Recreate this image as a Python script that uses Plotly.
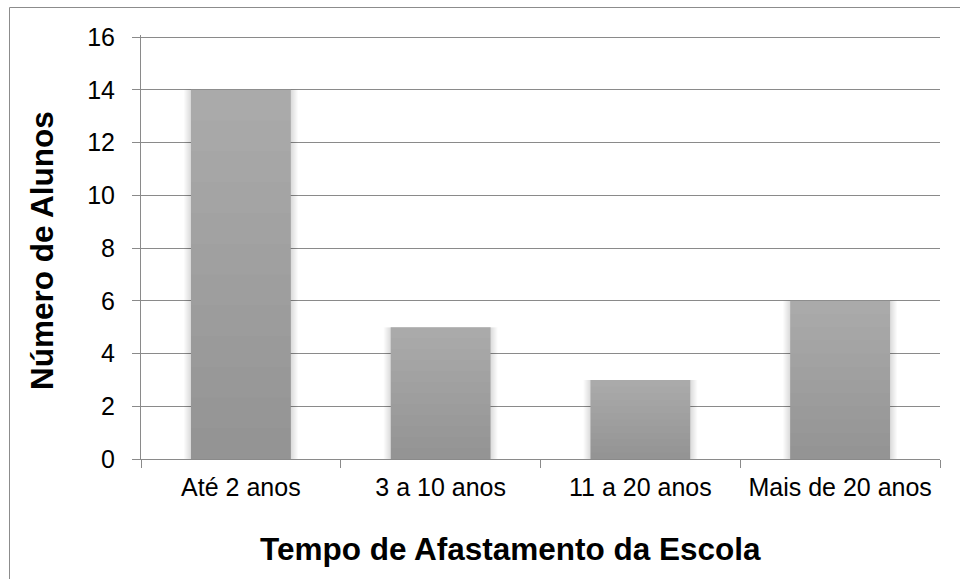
import plotly.graph_objects as go

# Students by time away from school
categorias = ["Até 2 anos", "3 a 10 anos", "11 a 20 anos", "Mais de 20 anos"]
alunos = [14, 5, 3, 6]
y_ticks = [0, 2, 4, 6, 8, 10, 12, 14, 16]
y_max = 16.08  # a little headroom so the top gridline is drawn

W, H = 960, 579
L, R, T, B = 141, 20, 35, 120
plot_w = W - L - R
plot_h = H - T - B
px = 1.0 / plot_w * len(categorias)  # one pixel in category units

bar_width = 0.5
fig = go.Figure()

# soft drop shadow around each bar
for k in range(7, 0, -1):
    fig.add_trace(go.Bar(
        x=categorias, y=alunos, width=bar_width + 2 * k * px,
        marker=dict(color="rgba(0,0,0,0.02)", line=dict(width=0)),
        hoverinfo="skip", showlegend=False,
    ))

# main bars, light grey at the top
fig.add_trace(go.Bar(
    x=categorias, y=alunos, width=bar_width,
    marker=dict(color="#adadad", line=dict(width=0)),
    showlegend=False,
))

# vertical shading: overlapping translucent bars darken toward the base
n_shade = 12
for k in range(1, n_shade + 1):
    fig.add_trace(go.Bar(
        x=categorias, y=[v * k / n_shade for v in alunos], width=bar_width,
        marker=dict(color="rgba(0,0,0,0.0125)", line=dict(width=0)),
        hoverinfo="skip", showlegend=False,
    ))

font = "Liberation Sans, Arial, sans-serif"
axis_color = "#8a8a8a"

fig.update_layout(
    width=W, height=H,
    margin=dict(l=L, r=R, t=T, b=B, pad=0),
    paper_bgcolor="white", plot_bgcolor="white",
    barmode="overlay",
    font=dict(family=font, color="black"),
    xaxis=dict(
        showline=True, linecolor=axis_color, linewidth=1,
        ticks="outside", tickson="boundaries", ticklen=8, tickcolor=axis_color,
        tickfont=dict(size=25, family=font, color="black"),
        ticklabelstandoff=6,
        showgrid=False,
    ),
    yaxis=dict(
        range=[0, y_max], tickvals=y_ticks,
        showline=True, linecolor=axis_color, linewidth=1,
        ticks="outside", ticklen=8, tickcolor=axis_color,
        tickfont=dict(size=25, family=font, color="black"),
        ticklabelstandoff=12,
        showgrid=True, gridcolor=axis_color, gridwidth=1,
        zeroline=False,
    ),
    annotations=[
        dict(text="<b>Tempo de Afastamento da Escola</b>",
             xref="paper", yref="paper",
             x=(510 - L) / plot_w, y=(T + plot_h - 549) / plot_h,
             xanchor="center", yanchor="middle", showarrow=False,
             font=dict(size=31.5, family=font, color="black")),
        dict(text="<b>Número de Alunos</b>",
             xref="paper", yref="paper", textangle=-90,
             x=(42 - L) / plot_w, y=(T + plot_h - 251) / plot_h,
             xanchor="center", yanchor="middle", showarrow=False,
             font=dict(size=31.5, family=font, color="black")),
    ],
    shapes=[
        dict(type="rect", xref="paper", yref="paper",
             x0=(9.5 - L) / plot_w, x1=(W + 40 - L) / plot_w,
             y0=(T + plot_h - (H + 40)) / plot_h, y1=(T + plot_h - 7.5) / plot_h,
             line=dict(color="#8c8c8c", width=1), fillcolor="rgba(0,0,0,0)",
             layer="below"),
    ],
)

fig.write_html("out.html")
